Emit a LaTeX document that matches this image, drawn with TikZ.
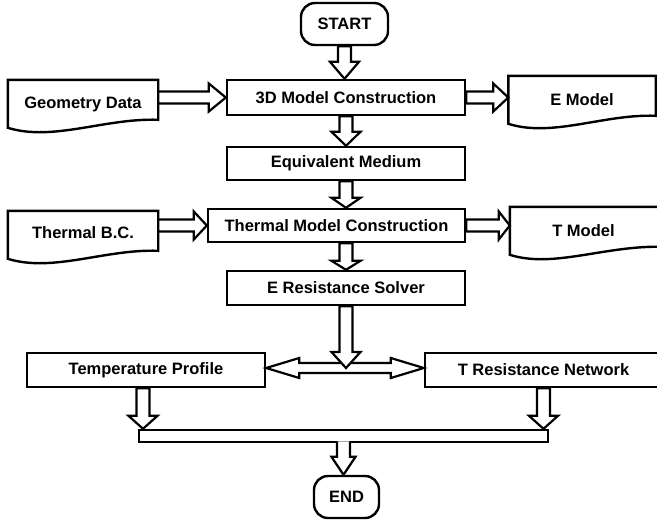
\documentclass[tikz,border=0pt]{standalone}
\usepackage{fontspec}
\setmainfont{Liberation Sans}
\usetikzlibrary{calc}
\tikzset{
  lbl/.style={font=\bfseries\fontsize{16.5}{18}\selectfont, inner sep=0pt},
  box/.style={lbl, draw, line width=2.4pt},
  term/.style={box, rounded corners=14pt},
  doc/.style={lbl},
  barrow/.style={draw, line width=2.2pt, fill=white, line join=miter},
  docline/.style={draw, line width=2.4pt, line join=miter}
}
% down block arrow: #1 head length, #2 start, #3 tip
\newcommand\bdown[3][16pt]{%
  \draw[barrow] let \p1=#2, \p2=#3 in
  (\x1-6.5pt,\y1) -- (\x1-6.5pt,\y2+#1) -- (\x1-14.5pt,\y2+#1) -- (\x1,\y2)
  -- (\x1+14.5pt,\y2+#1) -- (\x1+6.5pt,\y2+#1) -- (\x1+6.5pt,\y1) -- cycle;}
% right block arrow
\newcommand\bright[3][16pt]{%
  \draw[barrow] let \p1=#2, \p2=#3 in
  (\x1,\y2+6pt) -- (\x2-#1,\y2+6pt) -- (\x2-#1,\y2+14pt) -- (\x2,\y2)
  -- (\x2-#1,\y2-14pt) -- (\x2-#1,\y2-6pt) -- (\x1,\y2-6pt) -- cycle;}
% double block arrow
\newcommand\bdouble[2]{%
  \draw[barrow] let \p1=#1, \p2=#2 in
  (\x1,\y1) -- (\x1+33pt,\y1+10pt) -- (\x1+33pt,\y1+5pt) -- (\x2-33pt,\y1+5pt)
  -- (\x2-33pt,\y1+10pt) -- (\x2,\y1) -- (\x2-33pt,\y1-10pt) -- (\x2-33pt,\y1-5pt)
  -- (\x1+33pt,\y1-5pt) -- (\x1+33pt,\y1-10pt) -- cycle;}
% document shape: #1 node, #2 extension to the right
\newcommand\docshape[2]{%
  \draw[docline] let \p1=(#1.north west), \p2=(#1.north east) in
  (\p1) -- (\x2+#2,\y1) -- (\x2+#2,\y1-40pt)
  .. controls (\x2-0.35*\x2+0.35*\x1,\y1-38pt) and (\x1+0.3*\x2-0.3*\x1,\y1-62pt)
  .. (\x1,\y1-48pt) -- cycle;}
\begin{document}
\begin{tikzpicture}[x=1pt,y=-1pt]
\useasboundingbox (0,0) rectangle (657,523);

\node[term, minimum width=87pt, minimum height=42pt] (start) at (344.5,24) {START};
\node[box, minimum width=238pt, minimum height=35pt] (m3d) at (346,97.5) {3D Model Construction};
\node[box, minimum width=238pt, minimum height=33pt] (equiv) at (346,163.5) {Equivalent Medium};
\node[box, minimum width=257pt, minimum height=33pt] (thermal) at (336.5,225.5) {Thermal Model Construction};
\node[box, minimum width=238pt, minimum height=34pt] (eres) at (346,288) {E Resistance Solver};
\node[box, minimum width=238pt, minimum height=34pt] (temp) at (146,370) {Temperature Profile};
\node[box, minimum width=237pt, minimum height=34pt] (tres) at (543.5,370) {T Resistance Network};
\node[box, minimum width=409pt, minimum height=12pt] (bar) at (343.5,436) {};
\node[term, minimum width=65pt, minimum height=42pt] (end) at (346.5,497) {END};

\node[doc, minimum width=150pt, minimum height=48pt] (geo) at (83,104) {Geometry Data};
\node[doc, minimum width=147pt, minimum height=48pt] (emod) at (582,100) {E Model};
\node[doc, minimum width=150pt, minimum height=44pt] (tbc) at (83,233) {Thermal B.C.};
\node[doc, minimum width=147pt, minimum height=48pt] (tmod) at (583.5,231) {T Model};
\docshape{geo}{0pt}
\docshape{emod}{0pt}
\docshape{tbc}{0pt}
\docshape{tmod}{8pt}

% flow arrows
\bdown[17pt]{(start.south)}{(start.south |- m3d.north)}
\bdown[14pt]{(m3d.south)}{(equiv.north)}
\bdown[10pt]{(equiv.south)}{(equiv.south |- thermal.north)}
\bdown[9pt]{(equiv.south |- thermal.south)}{(eres.north)}
\bright[17pt]{(geo.east |- m3d.west)}{(m3d.west)}
\bright[15pt]{(m3d.east)}{(emod.west |- m3d.east)}
\bright[13pt]{(tbc.east |- thermal.west)}{(thermal.west)}
\bright[11pt]{(thermal.east)}{(tmod.west |- thermal.east)}
\bdouble{([yshift=2pt]temp.east)}{([yshift=2pt]tres.west)}
\bdown[16pt]{(eres.south)}{([yshift=2pt]eres.south |- temp.east)}
\bdown[13pt]{([xshift=-3pt]temp.south)}{([xshift=-3pt]temp.south |- bar.north)}
\bdown[13pt]{(tres.south)}{(tres.south |- bar.north)}
% bar to END (open at the bar)
\draw[barrow] let \p1=(bar.south), \p2=(end.north) in
  (\x1-6.5pt,\y1+1.8pt) -- (\x1-6.5pt,\y2+18pt) -- (\x1-12pt,\y2+18pt) -- (\x1,\y2)
  -- (\x1+12pt,\y2+18pt) -- (\x1+6.5pt,\y2+18pt) -- (\x1+6.5pt,\y1+1.8pt);
\end{tikzpicture}
\end{document}
